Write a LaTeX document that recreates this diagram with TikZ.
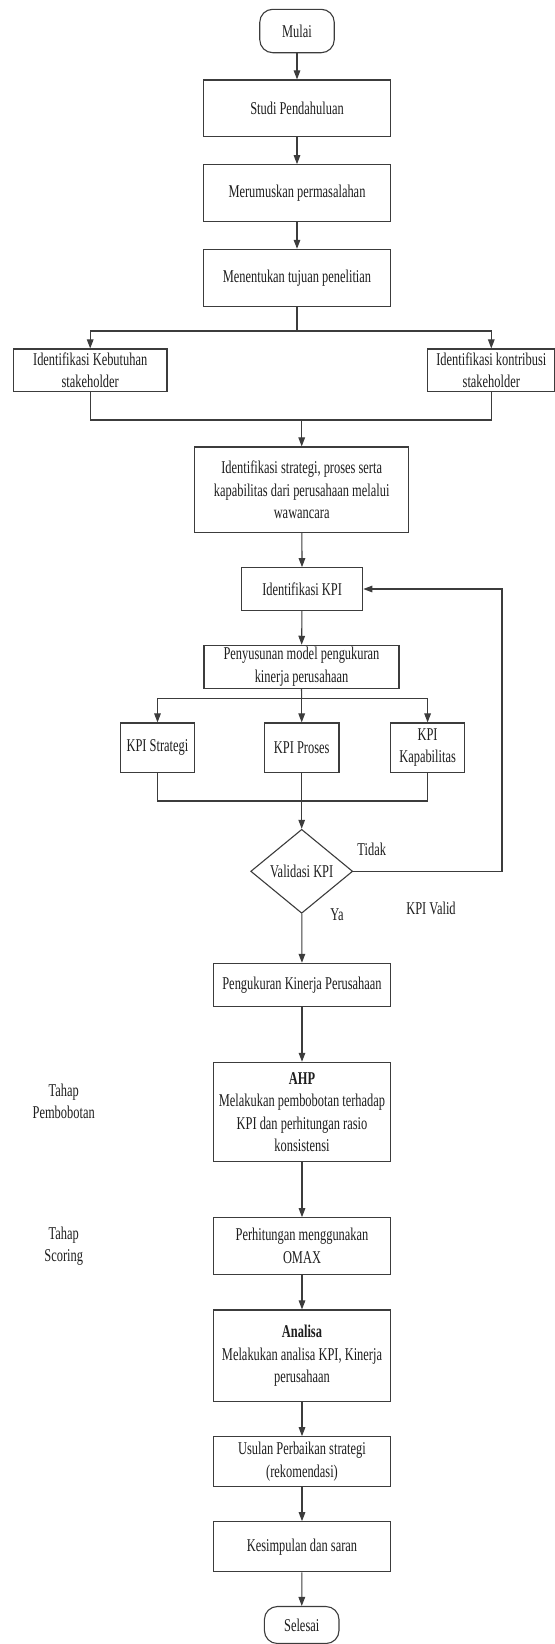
\documentclass[tikz,border=0pt]{standalone}
\usepackage{fontspec}
\setmainfont{Liberation Serif}[FakeStretch=0.69]
\usetikzlibrary{arrows.meta,shapes.geometric}
\definecolor{lc}{HTML}{3C3C3C}
\definecolor{tc}{HTML}{1E1E1E}
\begin{document}
\begin{tikzpicture}[x=0.5pt,y=-0.5pt,
  every node/.style={font=\fontsize{9}{11.2}\selectfont, text=tc},
  procbox/.style={draw=lc, line width=0.55pt, fill=white, inner sep=0pt, align=center},
  termbox/.style={procbox, rounded corners=6.5pt},
  decbox/.style={diamond, draw=lc, line width=0.55pt, fill=white, inner sep=0pt, aspect=1.2},
  lbl/.style={align=center, inner sep=0pt},
  conn/.style={draw=lc, line width=0.55pt},
  arr/.style={conn, -{Triangle[length=4.5pt,width=3.3pt]}}
]
\useasboundingbox (0,0) rectangle (555,1644);

% nodes
\node[termbox, minimum width=37.25pt, minimum height=21.7pt] (mulai) at (297,31) {Mulai};
\node[procbox, minimum width=93.25pt, minimum height=28.35pt] (studi) at (297,108.3) {Studi Pendahuluan};
\node[procbox, minimum width=93.25pt, minimum height=28.5pt] (rumus) at (297,193.2) {Merumuskan permasalahan};
\node[procbox, minimum width=93.25pt, minimum height=28.35pt] (tujuan) at (297,277.7) {Menentukan tujuan penelitian};
\node[procbox, minimum width=76.75pt, minimum height=21.35pt] (butuh) at (90.2,370.3) {Identifikasi Kebutuhan\\stakeholder};
\node[procbox, minimum width=63.6pt, minimum height=21.35pt] (kontrib) at (491.3,370.3) {Identifikasi kontribusi\\stakeholder};
\node[procbox, minimum width=107pt, minimum height=42.85pt] (strat) at (301.7,489.8) {Identifikasi strategi, proses serta\\kapabilitas dari perusahaan melalui\\wawancara};
\node[procbox, minimum width=60.7pt, minimum height=21.3pt] (ikpi) at (302.1,589) {Identifikasi KPI};
\node[procbox, minimum width=97.5pt, minimum height=21.5pt] (model) at (301.5,666.8) {Penyusunan model pengukuran\\kinerja perusahaan};
\node[procbox, minimum width=37.15pt, minimum height=24.85pt] (kstrat) at (157.5,747.8) {KPI Strategi};
\node[procbox, minimum width=37.3pt, minimum height=24.85pt] (kproses) at (301.7,747.8) {KPI Proses};
\node[procbox, minimum width=37.2pt, minimum height=24.85pt] (kkap) at (427.6,747.8) {KPI\\Kapabilitas};
\node[decbox, minimum width=51pt, minimum height=42pt] (valid) at (301.7,871.3) {Validasi KPI};
\node[procbox, minimum width=88.5pt, minimum height=21.35pt] (ukur) at (302,984.7) {Pengukuran Kinerja Perusahaan};
\node[procbox, minimum width=88.5pt, minimum height=49.7pt] (ahp) at (302,1112) {\textbf{AHP}\\Melakukan pembobotan terhadap\\KPI dan perhitungan rasio\\konsistensi};
\node[procbox, minimum width=88.5pt, minimum height=28.3pt] (omax) at (302,1246) {Perhitungan menggunakan\\OMAX};
\node[procbox, minimum width=88.5pt, minimum height=45.85pt] (analisa) at (302,1355.8) {\textbf{Analisa}\\Melakukan analisa KPI, Kinerja\\perusahaan};
\node[procbox, minimum width=88.5pt, minimum height=25pt] (usulan) at (302,1461.7) {Usulan Perbaikan strategi\\(rekomendasi)};
\node[procbox, minimum width=88.5pt, minimum height=25pt] (simpul) at (302,1546.7) {Kesimpulan dan saran};
\node[termbox, minimum width=37.3pt, minimum height=18.5pt] (selesai) at (301.7,1625) {Selesai};

% labels
\node[lbl] (tidak) at (371.7,849) {Tidak};
\node[lbl] (ya) at (337,915) {Ya};
\node[lbl] (kvalid) at (431,908.5) {KPI Valid};
\node[lbl] (tbobot) at (63.7,1101.4) {Tahap\\Pembobotan};
\node[lbl] (tscore) at (63.7,1246) {Tahap\\Scoring};

% helper coordinates
\coordinate (s1) at (297,331);
\coordinate (j1) at (301.7,420);
\coordinate (s2) at (301.7,698.7);
\coordinate (j2) at (301.7,801);
\coordinate (fb) at (502,871.3);

% connectors
\draw[arr] (mulai) -- (studi);
\draw[arr] (studi) -- (rumus);
\draw[arr] (rumus) -- (tujuan);
\draw[conn] (tujuan.south) -- (s1);
\draw[arr] (s1) -| (butuh.north);
\draw[arr] (s1) -| (kontrib.north);
\draw[conn] (butuh.south) |- (j1);
\draw[conn] (kontrib.south) |- (j1);
\draw[arr] (j1) -- (strat.north);
\draw[arr] (strat) -- (ikpi);
\draw[arr] (ikpi) -- (model);
\draw[conn] (model.south) -- (s2);
\draw[arr] (s2) -| (kstrat.north);
\draw[arr] (s2) -- (kproses.north);
\draw[arr] (s2) -| (kkap.north);
\draw[conn] (kstrat.south) |- (j2);
\draw[conn] (kkap.south) |- (j2);
\draw[arr] (kproses.south) -- (valid.north);
\draw[arr] (valid.east) -- (fb) |- (ikpi.east);
\draw[arr] (valid) -- (ukur);
\draw[arr] (ukur) -- (ahp);
\draw[arr] (ahp) -- (omax);
\draw[arr] (omax) -- (analisa);
\draw[arr] (analisa) -- (usulan);
\draw[arr] (usulan) -- (simpul);
\draw[arr] (simpul) -- (selesai);
\end{tikzpicture}
\end{document}
